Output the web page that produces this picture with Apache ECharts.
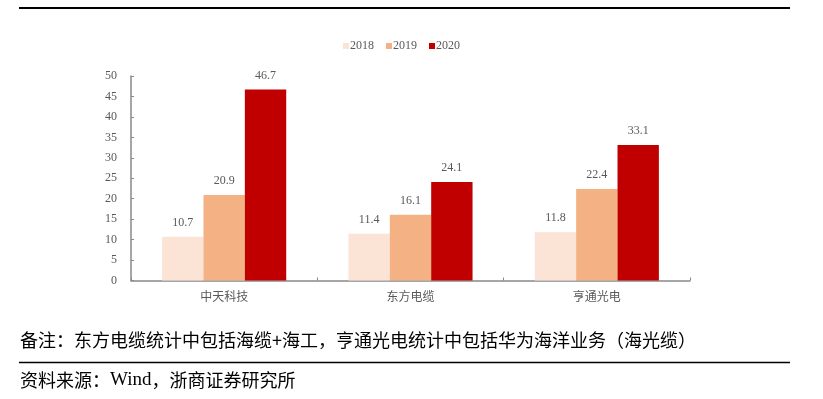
<!DOCTYPE html>
<html><head><meta charset="utf-8">
<script src="https://cdn.jsdelivr.net/npm/echarts@6/dist/echarts.min.js"></script>
<style>html,body{margin:0;padding:0;background:#fff}#c{width:823px;height:399px}</style>
</head><body><div id="c"></div>
<script>
const categories = ['中天科技', '东方电缆', '亨通光电'];
const seriesNames = ['2018', '2019', '2020'];
const v2018 = [10.7, 11.4, 11.8];
const v2019 = [20.9, 16.1, 22.4];
const v2020 = [46.7, 24.1, 33.1];
const yTicks = [0, 5, 10, 15, 20, 25, 30, 35, 40, 45, 50];
const noteText = '备注：东方电缆统计中包括海缆+海工，亨通光电统计中包括华为海洋业务（海光缆）';
const sourceParts = ['资料来源：', 'Wind', '，浙商证券研究所'];
const colors = ['#FBE3D6', '#F4B183', '#C00000'];

const chart = echarts.init(document.getElementById('c'), null, {renderer: 'canvas'});
const serif = '"Liberation Serif", "Times New Roman", serif';
const cjk = '"Noto Sans CJK SC", sans-serif';
const values = [v2018, v2019, v2020];
chart.setOption({
  animation: false,
  backgroundColor: '#fff',
  grid: {left: 131, right: 133, top: 76, bottom: 118.5, containLabel: false},
  legend: {
    top: 35, left: 338, itemWidth: 6, itemHeight: 6, itemGap: 12,
    icon: 'rect',
    textStyle: {fontFamily: serif, fontSize: 12, color: '#595959', padding: [0, 0, 0, -4]},
    data: seriesNames
  },
  xAxis: {
    type: 'category', data: categories,
    axisLine: {lineStyle: {color: '#898989', width: 1.5}},
    axisTick: {show: true, inside: true, length: 3, lineStyle: {color: '#898989'}},
    axisLabel: {fontFamily: cjk, fontSize: 12, color: '#595959', margin: 10}
  },
  yAxis: {
    type: 'value', min: yTicks[0], max: yTicks[yTicks.length - 1], interval: yTicks[1] - yTicks[0],
    axisLine: {show: true, lineStyle: {color: '#898989', width: 1.5}},
    axisTick: {show: true, inside: true, length: 3, lineStyle: {color: '#898989'}},
    splitLine: {show: false},
    axisLabel: {fontFamily: serif, fontSize: 12, color: '#595959', margin: 14}
  },
  series: seriesNames.map((n, i) => ({
    name: n, type: 'bar', data: values[i],
    barWidth: '22.2%', barGap: '0%',
    itemStyle: {color: colors[i]},
    label: {show: true, position: 'top', distance: 8, fontFamily: serif, fontSize: 12, color: '#595959',
      formatter: p => p.value.toFixed(1)}
  })),
  graphic: [
    {type: 'line', shape: {x1: 19, y1: 8, x2: 790, y2: 8}, style: {stroke: '#000', lineWidth: 2}},
    {type: 'text', left: 20, top: 331, style: {text: noteText, font: '18px ' + cjk, fill: '#000'}},
    {type: 'line', shape: {x1: 19, y1: 362.5, x2: 790, y2: 362.5}, style: {stroke: '#000', lineWidth: 1.5}},
    {type: 'text', left: 20, top: 371, style: {
      text: '{a|' + sourceParts[0] + '}{b|' + sourceParts[1] + '}{a|' + sourceParts[2] + '}',
      rich: {
        a: {fontFamily: cjk, fontSize: 18, fill: '#000', color: '#000'},
        b: {fontFamily: serif, fontSize: 19, fill: '#000', color: '#000'}
      }
    }}
  ]
});
</script></body></html>
